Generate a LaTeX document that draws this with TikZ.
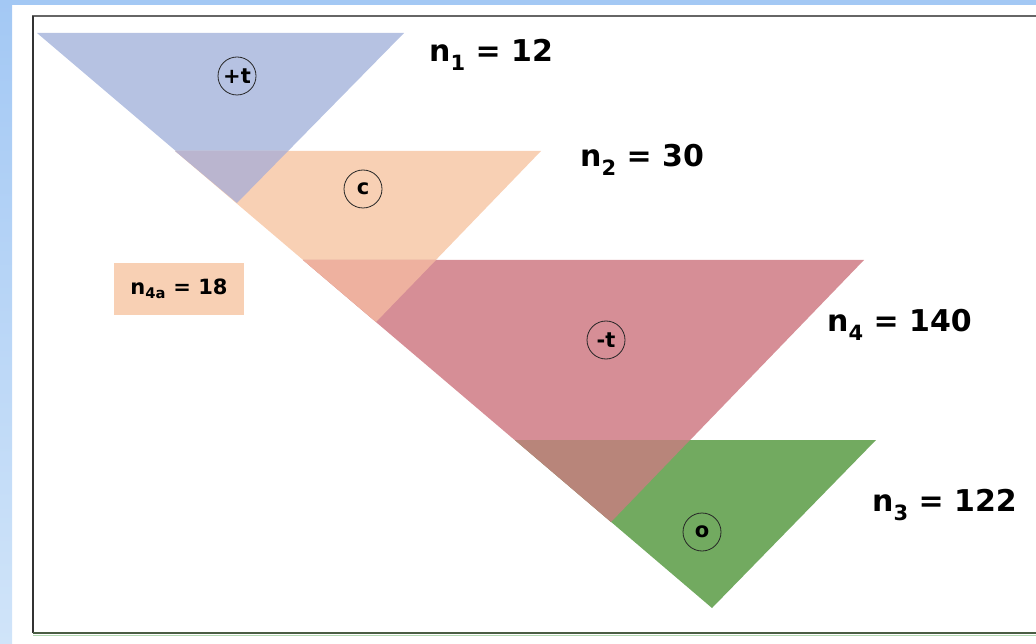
\documentclass[tikz,border=0pt]{standalone}
\usepackage{fontspec}
\setmainfont{DejaVu Sans}
\usepackage{tikz}
\usetikzlibrary{calc, positioning}

\definecolor{bandblue}{HTML}{A3C8F4}
\definecolor{bandlight}{HTML}{D0E4F9}
\definecolor{triblue}{HTML}{B6C2E2}
\definecolor{tripeach}{HTML}{F8D0B4}
\definecolor{trired}{HTML}{D68E96}
\definecolor{trigreen}{HTML}{72AA60}
\definecolor{ovbp}{HTML}{BAB5CF}
\definecolor{ovpr}{HTML}{EEB19F}
\definecolor{ovrg}{HTML}{B8857A}
\definecolor{framegreen}{HTML}{4B5E44}
\newcommand{\lowsub}[1]{\raisebox{-0.3em}{\fontsize{21}{21}\selectfont #1}}

\begin{document}
\begin{tikzpicture}[x=1pt, y=-1pt,
    tagcircle/.style={circle, draw=black!85, line width=0.8pt, inner sep=0pt,
        minimum size=38pt, font=\fontsize{21}{21}\selectfont\bfseries},
    countlabel/.style={anchor=base west, inner sep=0pt,
        font=\fontsize{30}{30}\selectfont\bfseries},
    smallbox/.style={fill=tripeach, inner sep=0pt, minimum width=130pt,
        minimum height=52pt, font=\fontsize{21}{21}\selectfont\bfseries}]
    \useasboundingbox (0,0) rectangle (1036,644);
    % Rahmen und Hintergrund
    \fill[bandblue] (0,0) rectangle (1036,5);
    \shade[top color=bandblue, bottom color=bandlight] (0,0) rectangle (12,644);
    \draw[black!60, line width=1.5pt] (32,16) -- (1036,16);
    \draw[black!80, line width=1.5pt] (33,16) -- (33,633);
    \draw[framegreen, line width=1.5pt] (33,633) -- (1036,633);
    \draw[green!50!black!30, line width=1pt] (33,635.5) -- (1036,635.5);
    % Dreiecke
    \fill[triblue]   (37,33)  -- (404,33)  -- (237,203) -- cycle;
    \fill[tripeach]  (175,151) -- (541,151) -- (376,322) -- cycle;
    \fill[trired]    (303,260) -- (864,260) -- (611,522) -- cycle;
    \fill[trigreen]  (515,440) -- (876,440) -- (712,608) -- cycle;
    % Ueberlappungen
    \fill[ovbp] (175,151) -- (288,151) -- (237,203) -- cycle;
    \fill[ovpr] (303,260) -- (436,260) -- (376,322) -- cycle;
    \fill[ovrg] (515,440) -- (690,440) -- (611,522) -- cycle;
    % Kreise
    \node[tagcircle] (plust)  at (237,76)  {+t};
    \node[tagcircle] (cee)    at (363,189) {c};
    \node[tagcircle] (minust) at (606,340) {-t};
    \node[tagcircle] (oh)     at (702,532) {o};
    % Beschriftungen
    \node[countlabel] (nOne)   at (429,62)  {n\lowsub{1} = 12};
    \node[countlabel] (nTwo)   at (580,167) {n\lowsub{2} = 30};
    \node[countlabel] (nFour)  at (827,331) {n\lowsub{4} = 140};
    \node[countlabel] (nThree) at (872,511) {n\lowsub{3} = 122};
    \node[smallbox] (nFourA) at (179,289) {n\textsubscript{4a} = 18};
\end{tikzpicture}
\end{document}
